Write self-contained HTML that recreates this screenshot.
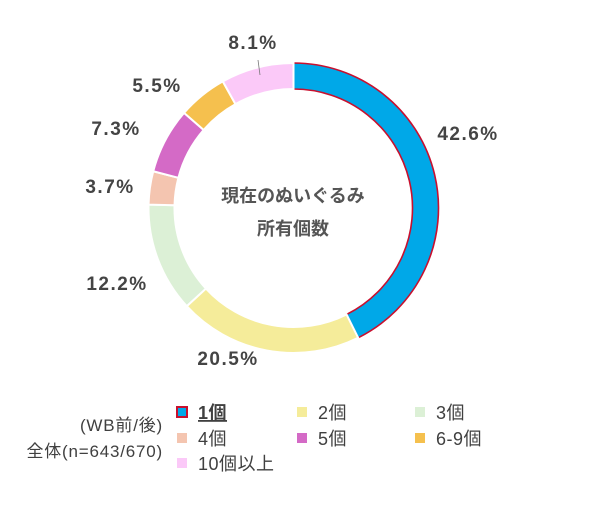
<!DOCTYPE html>
<html><head><meta charset="utf-8"><style>
html,body{margin:0;padding:0;background:#fff;width:600px;height:518px;overflow:hidden}
svg text{font-family:"Liberation Sans","Noto Sans CJK JP",sans-serif}
</style></head><body>
<svg id="chart" width="600" height="518" viewBox="0 0 600 518">
<g id="slices"></g>
<g id="labels"></g>
<line x1="258" y1="60" x2="260" y2="75" stroke="#777" stroke-width="0.8"/>
<text x="293" y="202" text-anchor="middle" font-size="18" font-weight="bold" fill="#555">現在のぬいぐるみ</text>
<text x="293" y="235" text-anchor="middle" font-size="18" font-weight="bold" fill="#555">所有個数</text>
<text x="163" y="431" text-anchor="end" font-size="17" letter-spacing="0.8" fill="#404040">(WB前/後)</text>
<text x="163" y="457" text-anchor="end" font-size="17" letter-spacing="0.8" fill="#404040">全体(n=643/670)</text>
<g id="legend"></g>
</svg>
<script>
const categories=["1個","2個","3個","4個","5個","6-9個","10個以上"];
const values=[42.6,20.5,12.2,3.7,7.3,5.5,8.1];
const colors=["#00a8e8","#f5ec9a","#dcf0d6","#f4c5b0","#d46ac6","#f5c04e","#fbc9f8"];
const labelPos=[[468,133],[228,358],[117,283],[110,186],[116,128],[157,85],[253,42]];
const legendPos=[[182,412],[302,412],[420,412],[182,438],[302,438],[420,438],[182,463]];
const NS="http://www.w3.org/2000/svg";
const cx=293.5,cy=208,R=145,r=119;
const total=values.reduce((a,b)=>a+b,0);
function pt(rad,a){return [cx+rad*Math.sin(a),cy-rad*Math.cos(a)];}
const sg=document.getElementById('slices'),lg=document.getElementById('labels'),leg=document.getElementById('legend');
let acc=0;
values.forEach((v,i)=>{
  const a0=acc/total*2*Math.PI;acc+=v;const a1=acc/total*2*Math.PI;
  const large=(a1-a0)>Math.PI?1:0;
  const p0=pt(R,a0),p1=pt(R,a1),q1=pt(r,a1),q0=pt(r,a0);
  const p=document.createElementNS(NS,'path');
  p.setAttribute('d',`M${p0} A${R},${R} 0 ${large} 1 ${p1} L${q1} A${r},${r} 0 ${large} 0 ${q0} Z`);
  p.setAttribute('fill',colors[i]);
  p.setAttribute('stroke',i===0?'#c8102e':'#fff');
  p.setAttribute('stroke-width',i===0?'1.6':'2');
  
  
  sg.appendChild(p);
  const t=document.createElementNS(NS,'text');
  t.setAttribute('x',labelPos[i][0]);t.setAttribute('y',labelPos[i][1]+7);
  t.setAttribute('text-anchor','middle');t.setAttribute('font-size','19');
  t.setAttribute('letter-spacing','1.5');
  t.setAttribute('font-weight','bold');t.setAttribute('fill','#444');
  t.textContent=v.toFixed(1)+'%';
  
  
  lg.appendChild(t);
  const g=document.createElementNS(NS,'g');
  
  
  const [lx,ly]=legendPos[i];
  const s=document.createElementNS(NS,'rect');
  s.setAttribute('x',lx-5);s.setAttribute('y',ly-5);s.setAttribute('width',10);s.setAttribute('height',10);
  s.setAttribute('fill',colors[i]);
  if(i===0){s.setAttribute('stroke','#c8102e');s.setAttribute('stroke-width','2');}
  g.appendChild(s);
  const lt=document.createElementNS(NS,'text');
  lt.setAttribute('x',lx+16);lt.setAttribute('y',ly+7);lt.setAttribute('font-size','18');
  lt.setAttribute('letter-spacing','0.5');
  lt.setAttribute('fill','#404040');
  if(i===0){lt.setAttribute('font-weight','bold');lt.setAttribute('text-decoration','underline');}
  lt.textContent=categories[i];
  g.appendChild(lt);
  leg.appendChild(g);
});
</script>
</body></html>
